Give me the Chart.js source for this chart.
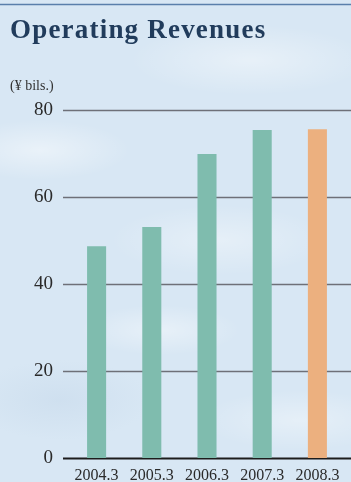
<!DOCTYPE html>
<html>
<head>
<meta charset="utf-8">
<title>Operating Revenues</title>
<script src="https://cdn.jsdelivr.net/npm/chart.js@4"></script>
<style>
  html, body {
    margin: 0;
    padding: 0;
    width: 351px;
    height: 482px;
    overflow: hidden;
  }
  body {
    background-color: #d8e7f4;
    background-image:
      radial-gradient(ellipse 90px 30px at 40px 150px, rgba(255,255,255,0.45), rgba(255,255,255,0)),
      radial-gradient(ellipse 120px 35px at 250px 60px, rgba(255,255,255,0.4), rgba(255,255,255,0)),
      radial-gradient(ellipse 80px 25px at 160px 330px, rgba(255,255,255,0.4), rgba(255,255,255,0)),
      radial-gradient(ellipse 100px 30px at 300px 420px, rgba(255,255,255,0.35), rgba(255,255,255,0)),
      radial-gradient(ellipse 90px 40px at 60px 400px, rgba(190,210,230,0.35), rgba(190,210,230,0)),
      radial-gradient(ellipse 110px 35px at 220px 240px, rgba(255,255,255,0.35), rgba(255,255,255,0));
  }
  #wrap {
    position: relative;
    width: 351px;
    height: 482px;
  }
</style>
</head>
<body>
<div id="wrap"><canvas id="revenueChart"></canvas></div>
<script>
const years = ['2004.3', '2005.3', '2006.3', '2007.3', '2008.3'];
const revenues = [48.7, 53.1, 69.9, 75.4, 75.6];
const yTicks = [0, 20, 40, 60, 80];

const barColors = years.map((y, i) => i === years.length - 1 ? '#ecb07f' : '#7fbcae');

// heading, unit label, top rule and the horizontal guide lines
const decorations = {
  id: 'decorations',
  beforeDatasetsDraw(chart) {
    const { ctx, chartArea, scales } = chart;
    ctx.save();
    yTicks.forEach((v) => {
      const y = Math.round(scales.y.getPixelForValue(v)) + 0.5;
      ctx.beginPath();
      ctx.moveTo(chartArea.left - 6, y);
      ctx.lineTo(chart.width, y);
      if (v === 0) {
        ctx.strokeStyle = '#1c1c1c';
        ctx.lineWidth = 2.2;
      } else {
        ctx.strokeStyle = '#6e7078';
        ctx.lineWidth = 1.4;
      }
      ctx.stroke();
    });
    ctx.restore();
  },
  afterDraw(chart) {
    const { ctx } = chart;
    ctx.save();
    ctx.strokeStyle = '#5a7fab';
    ctx.lineWidth = 1.6;
    ctx.beginPath();
    ctx.moveTo(0, 4.5);
    ctx.lineTo(chart.width, 4.5);
    ctx.stroke();

    ctx.fillStyle = '#213c5c';
    ctx.font = 'bold 27px "Liberation Serif", serif';
    ctx.letterSpacing = '1.2px';
    ctx.textBaseline = 'alphabetic';
    ctx.fillText('Operating Revenues', 10, 38);
    ctx.letterSpacing = '0px';

    ctx.fillStyle = '#333333';
    ctx.font = '14px "Liberation Serif", serif';
    ctx.fillText('(¥ bils.)', 10, 90);
    ctx.restore();
  }
};

const ctx = document.getElementById('revenueChart').getContext('2d');
new Chart(ctx, {
  type: 'bar',
  data: {
    labels: years,
    datasets: [{
      data: revenues,
      backgroundColor: barColors,
      borderWidth: 0,
      categoryPercentage: 1,
      barPercentage: 0.345
    }]
  },
  options: {
    responsive: true,
    maintainAspectRatio: false,
    animation: false,
    layout: {
      padding: { top: 110, right: 6, bottom: 0, left: 0 }
    },
    plugins: {
      legend: { display: false },
      tooltip: { enabled: false }
    },
    scales: {
      x: {
        grid: { display: false, drawTicks: false },
        border: { display: false },
        afterFit(scale) { scale.height = 24; },
        ticks: {
          color: '#2a2a2a',
          padding: 8,
          font: { family: '"Liberation Serif", serif', size: 16 }
        }
      },
      y: {
        min: 0,
        max: 80,
        grid: { display: false, drawTicks: false },
        border: { display: false },
        afterFit(scale) {
          scale.width = 69;
          scale.paddingTop = 0;
          scale.paddingBottom = 0;
        },
        ticks: {
          stepSize: 20,
          color: '#2a2a2a',
          padding: 16,
          font: { family: '"Liberation Serif", serif', size: 19 }
        }
      }
    }
  },
  plugins: [decorations]
});
</script>
</body>
</html>
